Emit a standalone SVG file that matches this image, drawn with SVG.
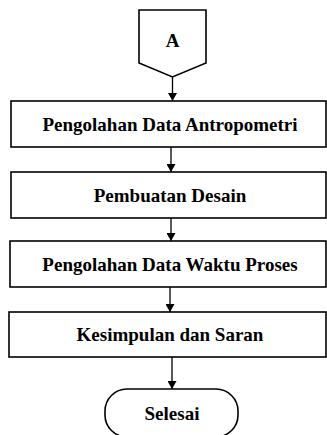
<svg xmlns="http://www.w3.org/2000/svg" width="327" height="435" viewBox="0 0 327 435">
<style>
.box{fill:#fff;stroke:#000;stroke-width:1.6}
.lbl{font-family:'Liberation Serif','Times New Roman','DejaVu Serif',serif;font-weight:bold;font-size:19px;fill:#000;text-anchor:middle}
.con{stroke:#000;stroke-width:1.3;fill:none;marker-end:url(#ah)}
</style>
<defs>
<marker id="ah" markerWidth="8" markerHeight="9" refX="8" refY="4.5" orient="auto" markerUnits="userSpaceOnUse">
<path d="M0,0 L8,4.5 L0,9 Z" fill="#000"/>
</marker>
</defs>
<rect width="327" height="435" fill="#fff"/>
<g id="connectors">
<line class="con" x1="172.5" y1="77" x2="172.5" y2="101"/>
<line class="con" x1="171" y1="147" x2="171" y2="172"/>
<line class="con" x1="171" y1="218" x2="171" y2="241"/>
<line class="con" x1="170" y1="287" x2="170" y2="312"/>
<line class="con" x1="172" y1="357" x2="172" y2="389"/>
</g>
<g id="nodeA">
<path class="box" d="M139,10 H206 V63 L172.5,77 L139,63 Z"/>
<text class="lbl" x="172.5" y="47" font-family="Liberation Serif, serif">A</text>
</g>
<g id="node1">
<rect class="box" x="11" y="101" width="315" height="46"/>
<text class="lbl" x="170" y="131" font-family="Liberation Serif, serif">Pengolahan Data Antropometri</text>
</g>
<g id="node2">
<rect class="box" x="11" y="172" width="315" height="46"/>
<text class="lbl" x="170" y="202" font-family="Liberation Serif, serif">Pembuatan Desain</text>
</g>
<g id="node3">
<rect class="box" x="10" y="241" width="316" height="46"/>
<text class="lbl" x="170" y="271" font-family="Liberation Serif, serif">Pengolahan Data Waktu Proses</text>
</g>
<g id="node4">
<rect class="box" x="9" y="312" width="317" height="45"/>
<text class="lbl" x="170" y="341" font-family="Liberation Serif, serif">Kesimpulan dan Saran</text>
</g>
<g id="end">
<rect class="box" x="105" y="389" width="133" height="48" rx="22" ry="22"/>
<text class="lbl" x="172" y="420" font-family="Liberation Serif, serif">Selesai</text>
</g>
</svg>
